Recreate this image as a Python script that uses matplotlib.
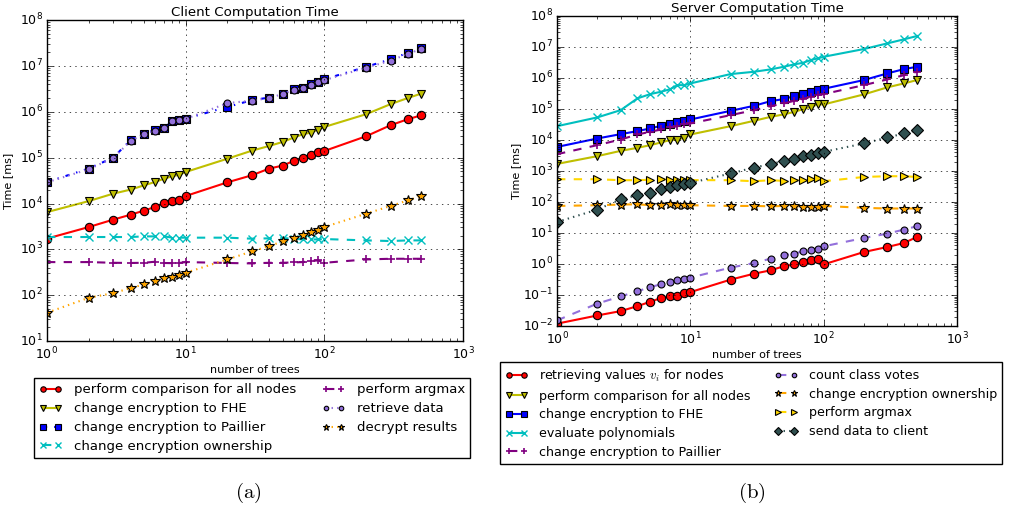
import matplotlib
matplotlib.use("Agg")
import matplotlib.pyplot as plt

plt.style.use("classic")
plt.rcParams["mathtext.fontset"] = "dejavusans"
plt.rcParams["font.family"] = "DejaVu Sans"

trees = [1, 2, 3, 4, 5, 6, 7, 8, 9, 10, 20, 30, 40, 50, 60, 70, 80, 90, 100, 200, 300, 400, 500]

# client side (a)
cl_comparison = [1720, 3070, 4450, 5700, 7000, 8400, 10250, 11200, 12200, 14600, 29000, 41300, 57800, 67200,
                 84700, 100000, 117000, 133000, 140000, 293000, 510000, 690000, 840000]
cl_fhe = [6500, 11300, 16400, 20100, 24900, 29500, 34900, 39200, 42700, 48700, 95000, 142000, 180000, 220000,
          274000, 324000, 353000, 410000, 468000, 887000, 1.47e6, 2.0e6, 2.5e6]
cl_paillier = [29400, 58000, 100000, 240000, 336000, 396000, 445000, 630000, 660000, 710000, 1.28e6, 1.79e6,
               2.05e6, 2.5e6, 3.07e6, 3.39e6, 4.0e6, 4.5e6, 5.15e6, 9.55e6, 1.4e7, 1.93e7, 2.48e7]
cl_ownership = [1860, 1860, 1860, 1860, 1920, 1920, 1920, 1800, 1800, 1800, 1800, 1710, 1740, 1760, 1710, 1650,
                1650, 1650, 1680, 1570, 1520, 1570, 1570]
cl_argmax = [528, 528, 510, 505, 510, 538, 505, 500, 505, 528, 505, 494, 510, 510, 520, 528, 556, 575, 510, 603,
             624, 624, 624]
cl_retrieve = [29000, 56000, 98000, 230000, 330000, 390000, 440000, 620000, 650000, 700000, 1.55e6, 1.75e6,
               2.0e6, 2.45e6, 3.0e6, 3.3e6, 3.9e6, 4.4e6, 4.9e6, 9.2e6, 1.3e7, 1.85e7, 2.33e7]
cl_decrypt = [41.5, 88, 111, 143, 172, 200, 236, 248, 279, 309, 604, 903, 1180, 1490, 1770, 2090, 2390, 2600,
              3070, 6000, 8830, 11700, 14600]

# server side (b)
sv_retrieve = [0.012, 0.022, 0.0305, 0.044, 0.061, 0.080, 0.091, 0.096, 0.116, 0.125, 0.315, 0.49, 0.63, 0.85,
               0.98, 1.17, 1.32, 1.43, 0.98, 2.45, 3.56, 4.79, 7.5]
sv_comparison = [1700, 3020, 4480, 5600, 6840, 8340, 9900, 10400, 12000, 15100, 28000, 41700, 56000, 67000,
                 81000, 99000, 118000, 141000, 141000, 296000, 500000, 670000, 860000]
sv_fhe = [6000, 11200, 15500, 19400, 23700, 28700, 33300, 37000, 40700, 46000, 87500, 127000, 180000, 209000,
          261000, 303000, 360000, 407000, 450000, 860000, 1.41e6, 1.94e6, 2.3e6]
sv_polynomials = [28000, 53600, 92000, 220000, 303000, 360000, 430000, 590000, 590000, 670000, 1.34e6, 1.59e6,
                  1.9e6, 2.3e6, 2.75e6, 3.1e6, 3.8e6, 4.3e6, 4.85e6, 8.6e6, 1.31e7, 1.77e7, 2.26e7]
sv_paillier = [3500, 6840, 10400, 15100, 18400, 21900, 25500, 28000, 32600, 34300, 63500, 92000, 124000, 151000,
               184000, 214000, 248000, 281000, 303000, 590000, 900000, 1.24e6, 1.59e6]
sv_votes = [0.0153, 0.053, 0.091, 0.132, 0.182, 0.222, 0.264, 0.299, 0.33, 0.366, 0.77, 1.08, 1.5, 1.92, 2.17,
            2.58, 2.93, 3.16, 3.74, 6.95, 9.6, 13, 16.6]
sv_ownership = [75, 79, 83, 85, 79, 79, 85, 79, 79, 79, 75, 75, 73, 75, 73, 70, 70, 70, 75, 65, 62, 62, 62]
sv_argmax = [545, 545, 507, 507, 525, 545, 525, 507, 507, 510, 507, 470, 507, 482, 507, 507, 545, 601, 470, 645,
             682, 682, 645]
sv_send = [22.8, 57, 123, 166, 203, 259, 309, 349, 376, 415, 834, 1300, 1660, 2130, 2410, 3020, 3250, 3690, 4170,
           7740, 12100, 16300, 20800]

client_series = [
    ("perform comparison for all nodes", cl_comparison, dict(color="r", ls="-", marker="o")),
    ("change encryption to FHE", cl_fhe, dict(color="y", ls="-", marker="v")),
    ("change encryption to Paillier", cl_paillier, dict(color="b", ls="-.", marker="s")),
    ("change encryption ownership", cl_ownership, dict(color="c", ls="--", marker="x", mec="c", mew=1)),
    ("perform argmax", cl_argmax, dict(color="purple", ls="--", marker="+", mec="purple", mew=1.2)),
    ("retrieve data", cl_retrieve, dict(color="mediumpurple", ls=":", marker="o", ms=5)),
    ("decrypt results", cl_decrypt, dict(color="orange", ls=":", marker="*", mfc="orange", ms=7)),
]

server_series = [
    ("retrieving values $v_i$ for nodes", sv_retrieve, dict(color="r", ls="-", marker="o")),
    ("perform comparison for all nodes", sv_comparison, dict(color="y", ls="-", marker="v")),
    ("change encryption to FHE", sv_fhe, dict(color="b", ls="-", marker="s")),
    ("evaluate polynomials", sv_polynomials, dict(color="c", ls="-", marker="x", mec="c", mew=1)),
    ("change encryption to Paillier", sv_paillier, dict(color="purple", ls="--", marker="+", mec="purple", mew=1.2)),
    ("count class votes", sv_votes, dict(color="mediumpurple", ls="--", marker="o", ms=5)),
    ("change encryption ownership", sv_ownership, dict(color="orange", ls="--", marker="*", ms=7)),
    ("perform argmax", sv_argmax, dict(color="gold", ls="--", marker=">")),
    ("send data to client", sv_send, dict(color="darkslategray", ls=":", marker="D", ms=6)),
]


def draw(ax, series, title, ylim, ylabel_x):
    for label, values, style in series:
        kw = dict(lw=1.5, ms=6, mew=0.8, mec="k")
        kw.update(style)
        ax.plot(trees, values, label=label, **kw)
    ax.set_xscale("log")
    ax.set_yscale("log")
    ax.set_xlim(1, 1000)
    ax.set_ylim(*ylim)
    ax.grid(True, which="major", ls=":", color="k")
    ax.set_title(title, fontsize=9.6, pad=3)
    ax.set_xlabel("number of trees", fontsize=8, labelpad=2)
    ax.set_ylabel("Time [ms]", fontsize=8)
    ax.yaxis.set_label_coords(ylabel_x, 0.5)
    ax.tick_params(labelsize=9, pad=3)


fig = plt.figure(figsize=(10.11, 5.16), dpi=100, facecolor="white")
ax1 = fig.add_axes([0.0465, 0.339, 0.4115, 0.622])
ax2 = fig.add_axes([0.551, 0.368, 0.3957, 0.601])

draw(ax1, client_series, "Client Computation Time", (10, 1e8), -0.082)
draw(ax2, server_series, "Server Computation Time", (1e-2, 1e8), -0.09)

legend_kw = dict(loc="upper left", ncol=2, numpoints=2, labelspacing=0.45, handletextpad=0.9,
                 markerscale=0.65, fancybox=False, borderpad=0.4, borderaxespad=0)
h1, l1 = ax1.get_legend_handles_labels()
fig.legend(h1, l1, bbox_to_anchor=(34 / 1011, 1 - 378 / 516), fontsize=9.5, columnspacing=2.0,
           handlelength=1.7, **legend_kw)
h2, l2 = ax2.get_legend_handles_labels()
leg2 = fig.legend(h2, l2, bbox_to_anchor=(500 / 1011, 1 - 362 / 516), fontsize=9.1, columnspacing=1.9,
                  handlelength=1.8, **legend_kw)
leg2.get_texts()[0].set_math_fontfamily("cm")

fig.text(248 / 1011, 1 - 493 / 516, r"$\mathrm{(a)}$", math_fontfamily="cm", fontsize=15, ha="center", va="center")
fig.text(752 / 1011, 1 - 493 / 516, r"$\mathrm{(b)}$", math_fontfamily="cm", fontsize=15, ha="center", va="center")

fig.savefig("out.png", dpi=100, facecolor="white")
